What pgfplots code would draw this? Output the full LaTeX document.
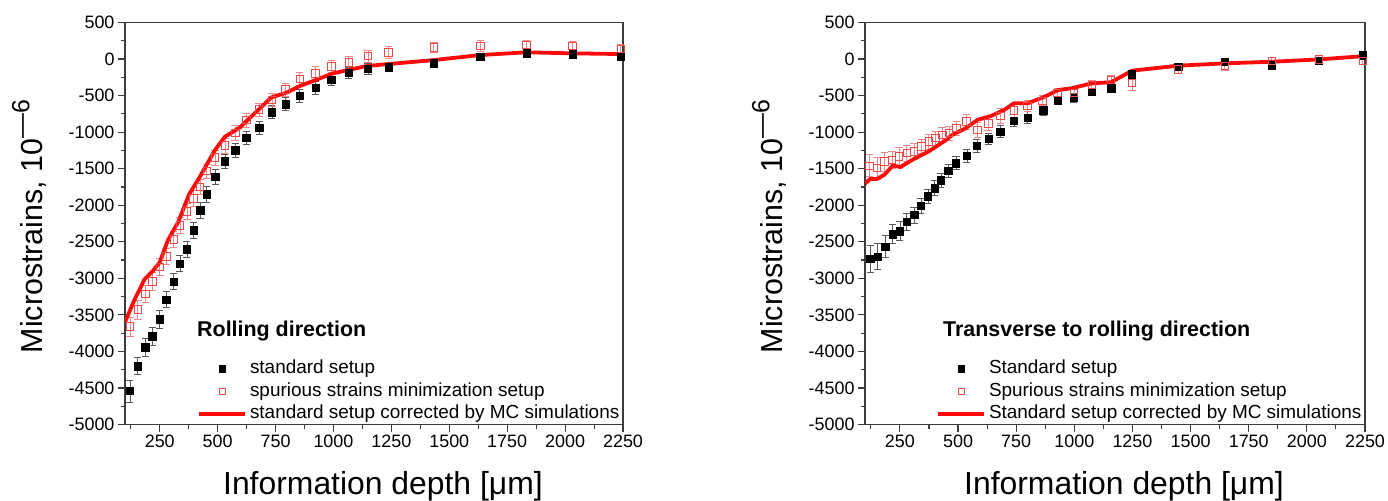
\documentclass[border=0pt]{standalone}
\usepackage{fontspec}
\setmainfont{Liberation Sans}
\usepackage{pgfplots}
\pgfplotsset{compat=1.18}
\usepackage{pgfplotstable}

\definecolor{axgray}{HTML}{3C3C3C}
\definecolor{sqred}{HTML}{F04848}
\definecolor{errred}{HTML}{F08888}
\definecolor{linered}{HTML}{FF0A0A}

% ---------- Rolling direction ----------
\pgfplotstableread{
x y e
121 -4540 150
155 -4200 120
188 -3945 120
218 -3790 120
250 -3560 120
278 -3290 110
310 -3045 110
337 -2800 110
367 -2600 110
396 -2342 110
424 -2066 110
453 -1849 110
489 -1612 100
531 -1397 100
576 -1247 100
624 -1073 90
679 -936 90
734 -726 90
793 -616 90
854 -498 90
922 -393 90
991 -283 80
1066 -190 80
1149 -132 70
1238 -112 60
1433 -59 50
1634 32 50
1833 78 50
2032 68 40
2240 32 50
}\LStd
\pgfplotstableread{
x y e
121 -3658 130
155 -3425 130
188 -3210 120
218 -3041 120
250 -2845 120
278 -2699 110
310 -2470 110
337 -2274 110
367 -2085 110
396 -1909 110
424 -1749 100
453 -1534 100
489 -1347 100
531 -1183 100
576 -1009 100
624 -836 100
679 -689 90
734 -560 90
793 -416 90
854 -274 90
922 -196 90
991 -100 80
1066 -48 80
1149 41 80
1238 90 80
1433 160 70
1634 182 70
1833 192 60
2032 178 60
2240 137 60
}\LSpu
\pgfplotstableread{
x y
100 -3600
140 -3300
185 -3010
220 -2900
250 -2780
285 -2480
330 -2228
377 -1849
423 -1612
488 -1247
531 -1064
596 -936
667 -721
732 -525
797 -461
854 -370
998 -196
1142 -96
1238 -68
1433 -14
1634 55
1833 92
2032 78
2250 68
}\LMC

% ---------- Transverse direction ----------
\pgfplotstableread{
x y e
122 -2733 180
155 -2701 180
187 -2565 150
218 -2397 130
250 -2356 130
279 -2224 120
311 -2133 110
340 -2010 100
370 -1878 100
399 -1765 100
426 -1660 100
458 -1524 90
491 -1424 90
538 -1319 90
581 -1187 90
632 -1092 80
682 -991 80
740 -841 80
799 -800 80
866 -700 70
928 -566 60
998 -525 60
1075 -446 50
1158 -400 50
1248 -209 50
1446 -105 50
1647 -37 50
1849 -82 40
2051 -23 40
2240 50 40
}\TStd
\pgfplotstableread{
x y e
119 -1460 150
151 -1491 150
184 -1401 130
216 -1378 120
247 -1333 120
279 -1287 110
311 -1265 110
343 -1196 100
374 -1128 100
403 -1082 100
432 -1037 100
461 -1014 100
493 -946 100
536 -855 100
584 -969 100
630 -878 100
682 -778 100
740 -705 100
799 -641 80
863 -569 70
928 -460 60
998 -460 60
1075 -355 60
1158 -286 60
1248 -323 100
1446 -141 60
1647 -95 60
1849 -23 50
2051 -5 50
2240 -23 50
}\TSpu
\pgfplotstableread{
x y
100 -1705
122 -1641
151 -1641
184 -1582
220 -1455
252 -1478
309 -1369
374 -1264
439 -1128
476 -1037
533 -946
584 -832
642 -778
699 -696
740 -605
801 -605
873 -514
931 -423
988 -400
1075 -332
1158 -318
1248 -159
1446 -91
1647 -59
1849 -37
2051 -5
2250 41
}\TMC

\pgfplotsset{
  strainaxis/.style={
    scale only axis, height=402bp,
    xmin=100, xmax=2250, ymin=-5000, ymax=500,
    xtick={250,500,...,2250}, minor xtick={125,375,...,2125},
    ytick={-5000,-4500,...,500}, minor ytick={-4750,-4250,...,250},
    tick align=outside, tick pos=left,
    major tick length=7bp, minor tick length=4bp,
    axis line style={axgray, line width=1.3bp},
    every tick/.style={axgray, line width=1.1bp},
    scaled ticks=false,
    /pgf/number format/1000 sep={},
    /pgf/number format/assume math mode=true,
    ticklabel style={font=\fontsize{18}{21}\selectfont},
    xlabel={Information depth [μm]},
    ylabel={Microstrains, 10\raisebox{0.42em}{\fontsize{25}{28}\selectfont —6}},
    xlabel style={at={(axis description cs:0.518,-0.153)}, anchor=center,
      font=\fontsize{32}{36}\selectfont},
    clip=true,
    legend cell align=left,
    legend image code/.code={\draw[mark repeat=2,mark phase=2,##1] plot coordinates {(0bp,0bp) (23bp,0bp) (46bp,0bp)};},
    legend style={draw=none, fill=none, anchor=north west, inner sep=0pt,
      font=\fontsize{19}{22}\selectfont, row sep=1.5bp,
      /tikz/column sep=2bp,
      nodes={inner sep=1bp, text height=14.5bp, text depth=4.5bp}},
  },
  stdmarks/.style={forget plot, only marks, mark=square*, mark size=3.7bp, black,
    error bars/.cd, y dir=both, y explicit,
    error bar style={line width=0.6bp, black!65},
    error mark options={rotate=90, mark size=3.6bp, line width=0.6bp, black!65},
    /pgfplots/.cd},
  spumarks/.style={forget plot, only marks, mark=square, mark size=3.7bp,
    mark options={sqred, line width=0.8bp},
    error bars/.cd, y dir=both, y explicit,
    error bar style={line width=0.6bp, errred},
    error mark options={rotate=90, mark size=3.8bp, line width=0.6bp, errred},
    /pgfplots/.cd},
  mcline/.style={forget plot, linered, line width=3.8bp, no marks},
}

\begin{document}
\begin{tikzpicture}
\path[use as bounding box] (0,0) rectangle (1388bp,501bp);

\begin{axis}[strainaxis, width=498bp,
  at={(125bp,76.5bp)}, anchor=south west,
  ylabel style={at={(axis description cs:-0.193,0.4925)}, anchor=center,
    font=\fontsize{30.5}{34}\selectfont},
  legend style={at={(rel axis cs:0.1446,0.165)}}]
  \addplot[stdmarks] table[x=x, y=y, y error=e] {\LStd};
  \addplot[spumarks] table[x=x, y=y, y error=e] {\LSpu};
  \addplot[mcline] table[x=x, y=y] {\LMC};
  \addlegendimage{only marks, mark=square*, mark size=3.2bp, black}
  \addlegendentry{standard setup}
  \addlegendimage{only marks, mark=square, mark size=3.2bp, sqred, line width=0.8bp}
  \addlegendentry{spurious strains minimization setup}
  \addlegendimage{linered, line width=3.8bp}
  \addlegendentry{standard setup corrected by MC simulations}
  \node[anchor=base west, font=\bfseries\fontsize{21.5}{25}\selectfont, inner sep=0pt]
    at (rel axis cs:0.1446,0.218) {Rolling direction};
\end{axis}

\begin{axis}[strainaxis, width=500bp,
  at={(865bp,76.5bp)}, anchor=south west,
  ylabel style={at={(axis description cs:-0.192,0.4925)}, anchor=center,
    font=\fontsize{30.5}{34}\selectfont},
  legend style={at={(rel axis cs:0.142,0.165)}}]
  \addplot[stdmarks] table[x=x, y=y, y error=e] {\TStd};
  \addplot[spumarks] table[x=x, y=y, y error=e] {\TSpu};
  \addplot[mcline] table[x=x, y=y] {\TMC};
  \addlegendimage{only marks, mark=square*, mark size=3.2bp, black}
  \addlegendentry{Standard setup}
  \addlegendimage{only marks, mark=square, mark size=3.2bp, sqred, line width=0.8bp}
  \addlegendentry{Spurious strains minimization setup}
  \addlegendimage{linered, line width=3.8bp}
  \addlegendentry{Standard setup corrected by MC simulations}
  \node[anchor=base west, font=\bfseries\fontsize{21.5}{25}\selectfont, inner sep=0pt]
    at (rel axis cs:0.156,0.218) {Transverse to rolling direction};
\end{axis}
\end{tikzpicture}
\end{document}
